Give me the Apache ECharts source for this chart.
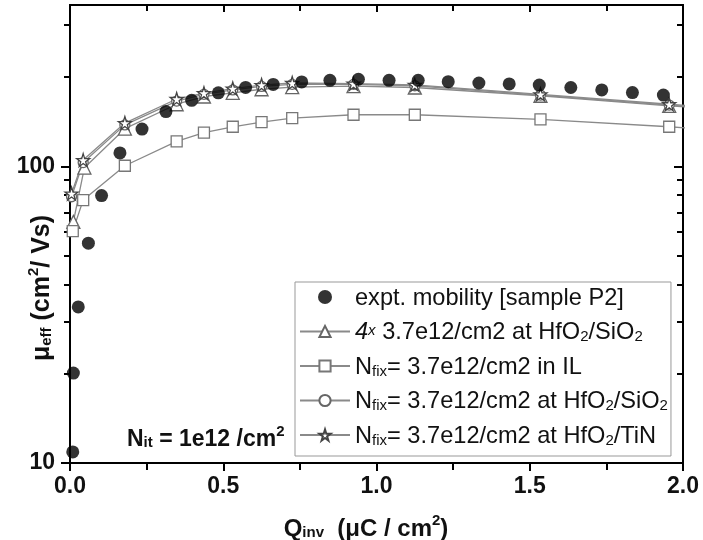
<!DOCTYPE html>
<html><head><meta charset="utf-8">
<script src="https://cdn.jsdelivr.net/npm/echarts@6/dist/echarts.min.js"></script>
<style>html,body{margin:0;padding:0;background:#fff}#c{width:703px;height:540px}</style>
</head><body><div id="c"></div>
<script>
// ---- data ----
const exptQ  = [0.009, 0.011, 0.027, 0.060, 0.103, 0.163, 0.235, 0.313, 0.397, 0.484, 0.573, 0.663, 0.756, 0.848, 0.941, 1.041, 1.136, 1.234, 1.334, 1.433, 1.531, 1.634, 1.735, 1.835, 1.936];
const exptMu = [10.9, 20.1, 33.6, 55.1, 79.7, 111, 133.6, 153, 167, 177, 184.6, 189, 192.7, 195, 196.7, 195, 195, 193, 191, 189.7, 188, 184.5, 181, 177.4, 174];

const q4x  = [0.011, 0.047, 0.179, 0.348, 0.437, 0.531, 0.625, 0.725, 0.925, 1.125, 1.535, 1.955, 2.05];
const mu4x = [65, 99, 134, 162, 172, 177, 182, 185, 186.5, 184.5, 173, 160, 157.5];

const qIL  = [0.009, 0.043, 0.179, 0.348, 0.437, 0.531, 0.625, 0.725, 0.925, 1.125, 1.535, 1.955, 2.05];
const muIL = [60.5, 77, 100.5, 121.4, 130, 136, 141, 145.5, 149.3, 149.3, 144, 136, 134];

const qFix    = [0.005, 0.043, 0.179, 0.348, 0.437, 0.531, 0.625, 0.725, 0.925, 1.125, 1.535, 1.955, 2.05];
const muSiO2  = [79, 103, 138, 166, 175, 181, 186, 189, 189, 187, 174, 161, 158.5];
const muTiN   = [81, 105, 140, 168.7, 176.5, 183, 188, 191, 190, 188.3, 175, 162, 159.5];

const xTicks = [0, 0.5, 1.0, 1.5, 2.0];
const yMajor = [10, 100];
const yMinor = [20, 30, 40, 50, 60, 70, 80, 90, 200, 300];

const names = [
  'expt. mobility [sample P2]',
  '4x 3.7e12/cm2 at HfO2/SiO2',
  'Nfix= 3.7e12/cm2 in IL',
  'Nfix= 3.7e12/cm2 at HfO2/SiO2',
  'Nfix= 3.7e12/cm2 at HfO2/TiN'
];
const legendRich = {
  [names[0]]: '{t|expt. mobility [sample P2]}',
  [names[1]]: '{i|4}{ix|x}{t| 3.7e12/cm2 at HfO}{s|2}{t|/SiO}{s|2}',
  [names[2]]: '{t|N}{s|fix}{t|= 3.7e12/cm2 in IL}',
  [names[3]]: '{t|N}{s|fix}{t|= 3.7e12/cm2 at HfO}{s|2}{t|/SiO}{s|2}',
  [names[4]]: '{t|N}{s|fix}{t|= 3.7e12/cm2 at HfO}{s|2}{t|/TiN}'
};

const FONT = 'Liberation Sans, Arial, sans-serif';
const zip = (a, b) => a.map((v, i) => [v, b[i]]);
const starPath = 'path://M50,0 L61,35 L98,35 L68,57 L79,91 L50,70 L21,91 L32,57 L2,35 L39,35 Z';

const chart = echarts.init(document.getElementById('c'), null, {renderer: 'canvas'});

const xBase = {type: 'value', min: 0, max: 2, interval: 0.5, splitLine: {show: false},
  axisLine: {show: true, onZero: false, lineStyle: {color: '#000', width: 2}}};
const yBase = {type: 'log', logBase: 10, min: 10, max: 350, splitLine: {show: false},
  axisLine: {show: true, lineStyle: {color: '#000', width: 2}}};

const lineSeries = (name, data, symbol, size, border) => ({
  name, type: 'line', data, symbol, symbolSize: size, showAllSymbol: true, clip: true,
  lineStyle: {color: '#8a8a8a', width: 1.3},
  itemStyle: {color: '#fff', borderColor: border, borderWidth: 1.3},
  emphasis: {disabled: true}, animation: false, z: 2
});

const titleRich = (fs) => ({
  m: {fontFamily: FONT, fontSize: fs, fontWeight: 'bold', fill: '#111', lineHeight: fs + 3, verticalAlign: 'top', padding: [4, 0, 6, 0]},
  s: {fontFamily: FONT, fontSize: 15, fontWeight: 'bold', fill: '#111', lineHeight: 16, verticalAlign: 'bottom'},
  p: {fontFamily: FONT, fontSize: 15, fontWeight: 'bold', fill: '#111', lineHeight: 16, verticalAlign: 'top'}
});

chart.setOption({
  animation: false,
  backgroundColor: '#fff',
  grid: {left: 70, right: 20, top: 5, bottom: 77, containLabel: false},
  xAxis: [
    Object.assign({}, xBase, {position: 'bottom',
      axisTick: {show: true, inside: false, length: 8, lineStyle: {color: '#000', width: 2}},
      minorTick: {show: true, splitNumber: 2, length: 7, lineStyle: {color: '#000', width: 2}},
      axisLabel: {show: true, margin: 12, fontFamily: FONT, fontSize: 23, fontWeight: 'bold', color: '#111',
        formatter: v => v.toFixed(1)}}),
    Object.assign({}, xBase, {position: 'top',
      axisTick: {show: true, inside: true, length: 7, lineStyle: {color: '#000', width: 2}},
      minorTick: {show: true, splitNumber: 2, length: 6, lineStyle: {color: '#000', width: 2}},
      axisLabel: {show: false}})
  ],
  yAxis: [
    Object.assign({}, yBase, {position: 'left',
      axisTick: {show: true, inside: false, length: 9, customValues: yMajor, lineStyle: {color: '#000', width: 2}},
      axisLabel: {show: true, margin: 15, customValues: yMajor, fontFamily: FONT, fontSize: 23, fontWeight: 'bold', color: '#111',
        formatter: v => String(Math.round(v))}}),
    Object.assign({}, yBase, {position: 'left',
      axisTick: {show: true, inside: false, length: 6, customValues: yMinor, lineStyle: {color: '#000', width: 2}},
      axisLabel: {show: false}}),
    Object.assign({}, yBase, {position: 'right',
      axisTick: {show: true, inside: true, length: 9, customValues: yMajor, lineStyle: {color: '#000', width: 2}},
      axisLabel: {show: false}}),
    Object.assign({}, yBase, {position: 'right',
      axisTick: {show: true, inside: true, length: 6, customValues: yMinor, lineStyle: {color: '#000', width: 2}},
      axisLabel: {show: false}})
  ],
  legend: {
    orient: 'vertical', left: 295, top: 282,
    itemWidth: 50, itemHeight: 14, itemGap: 3.5,
    padding: [2, 3, 3, 4], borderColor: '#999', borderWidth: 1, backgroundColor: '#fff',
    data: names, selectedMode: false,
    formatter: n => legendRich[n],
    textStyle: {fontFamily: FONT, fontSize: 23.6, color: '#111',
      rich: {
        t: {fontFamily: FONT, fontSize: 23.6, color: '#111', lineHeight: 26, verticalAlign: 'top', padding: [2, 0, 5, 0]},
        i: {fontFamily: FONT, fontSize: 23.6, color: '#111', fontStyle: 'italic', lineHeight: 26, verticalAlign: 'top', padding: [2, 0, 5, 0]},
        ix: {fontFamily: FONT, fontSize: 15, color: '#111', fontStyle: 'italic', lineHeight: 16, verticalAlign: 'bottom', padding: [0, 0, 6, 0]},
        s: {fontFamily: FONT, fontSize: 15, color: '#111', lineHeight: 16, verticalAlign: 'bottom'}
      }}
  },
  series: [
    lineSeries(names[1], zip(q4x, mu4x), 'triangle', 13, '#666'),
    lineSeries(names[2], zip(qIL, muIL), 'rect', 11, '#777'),
    lineSeries(names[3], zip(qFix, muSiO2), 'circle', 10, '#666'),
    lineSeries(names[4], zip(qFix, muTiN), starPath, 13, '#444'),
    {name: names[0], type: 'scatter', data: zip(exptQ, exptMu), symbol: 'circle', symbolSize: 13,
     itemStyle: {color: '#000'}, z: 5, clip: false, emphasis: {disabled: true}}
  ],
  graphic: [
    {type: 'text', x: 40, y: 288, rotation: Math.PI / 2,
     style: {text: '{m|μ}{s|eff}{m| (cm}{p|2}{m|/ Vs)}', align: 'center', verticalAlign: 'middle',
       rich: titleRich(25)}},
    {type: 'text', x: 366, y: 527,
     style: {text: '{m|Q}{s|inv}{m|  (μC / cm}{p|2}{m|)}', align: 'center', verticalAlign: 'middle',
       rich: titleRich(24)}},
    {type: 'text', x: 127, y: 437,
     style: {text: '{m|N}{s|it}{m| = 1e12 /cm}{p|2}', align: 'left', verticalAlign: 'middle',
       rich: titleRich(23)}}
  ]
});
</script></body></html>
